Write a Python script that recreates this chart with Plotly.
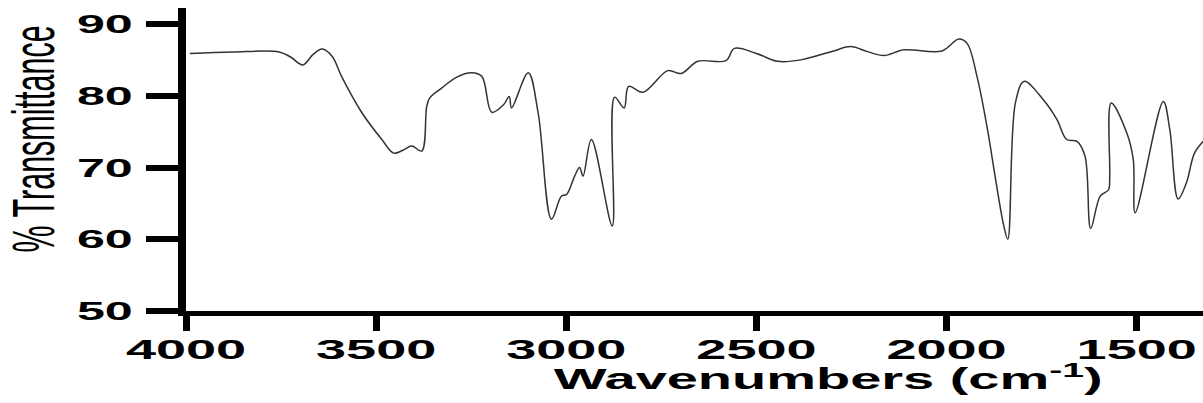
import plotly.graph_objects as go

# ---- data ----
wavenumber = [3990, 3878, 3755, 3725, 3693, 3665, 3642, 3616, 3590, 3537, 3485,
              3454, 3430, 3406, 3380, 3367, 3359, 3327, 3288, 3249, 3222, 3196,
              3165, 3150, 3144, 3100, 3074, 3039, 3013, 2999, 2978, 2965, 2956,
              2934, 2879, 2873, 2848, 2836, 2798, 2733, 2698, 2654, 2580, 2558,
              2500, 2444, 2383, 2297, 2252, 2208, 2165, 2112, 2012, 1968, 1946,
              1920, 1893, 1870, 1850, 1839, 1819, 1796, 1745, 1710, 1684, 1657,
              1636, 1621, 1596, 1574, 1571, 1567, 1526, 1509, 1504, 1430, 1413,
              1391, 1369, 1348, 1322]
transmittance = [85.9, 86.1, 86.1, 85.4, 84.3, 85.8, 86.5, 85.5, 82.6, 77.6, 73.9,
                 72.0, 72.4, 73.0, 72.3, 78.5, 79.7, 81.1, 82.6, 83.2, 82.7, 77.7,
                 78.75, 79.9, 78.3, 83.2, 77.6, 62.8, 66.0, 66.25, 68.8, 70.0, 68.8,
                 73.9, 61.85, 79.8, 78.3, 81.3, 80.5, 83.5, 83.1, 84.8, 84.9, 86.6,
                 85.9, 84.8, 85.0, 86.25, 86.85, 86.15, 85.6, 86.4, 86.25, 87.9, 87.3,
                 82.7, 75.5, 68.0, 62.0, 60.0, 79.0, 82.0, 79.4, 76.7, 73.9, 73.65,
                 71.6, 61.5, 66.0, 66.9, 68.5, 79.0, 74.8, 71.1, 63.7, 79.2, 75.3,
                 65.6, 67.9, 72.0, 73.8]
x_ticks = [4000, 3500, 3000, 2500, 2000, 1500]
y_ticks = [50, 60, 70, 80, 90]
x_title = "Wavenumbers (cm<sup>-1</sup>)"
y_title = "% Transmittance"

# ---- layout geometry (pixels) ----
W, H = 1203, 403
L, T, B = 186, 8, 311
X1500_PX = 1136.7
Y90_PX = 24
x_right = 4000 - (W - L) * 2500 / (X1500_PX - L)
y_top = 90 + (Y90_PX - T) * 40 / (B - Y90_PX)

fig = go.Figure(go.Scatter(
    x=wavenumber, y=transmittance, mode="lines",
    line=dict(color="#333333", width=1.5, shape="spline", smoothing=1.0),
    hoverinfo="skip"))

FONT = "Liberation Sans, Arial, sans-serif"
tick_font_x = dict(family=FONT, size=28, color="black", weight="bold")
tick_font_y = dict(family=FONT, size=26, color="black", weight="bold")

fig.update_layout(
    width=W, height=H, margin=dict(l=L, r=0, t=T, b=H - B, pad=0),
    paper_bgcolor="white", plot_bgcolor="white", showlegend=False,
    xaxis=dict(range=[4000, x_right], tickmode="array", tickvals=x_ticks,
               ticks="outside", ticklen=15, tickwidth=7, tickcolor="black",
               showline=True, linewidth=5, linecolor="black",
               showgrid=False, zeroline=False, tickfont=tick_font_x,
               ticklabelstandoff=0),
    yaxis=dict(range=[50, y_top], tickmode="array", tickvals=y_ticks,
               ticks="outside", ticklen=32, tickwidth=6, tickcolor="black",
               showline=True, linewidth=8, linecolor="black",
               showgrid=False, zeroline=False, tickfont=tick_font_y,
               ticklabelstandoff=8),
)

def px_to_paper_x(px):
    return (px - L) / (W - L)

def px_to_paper_y(py):
    return (B - py) / (B - T)

fig.add_annotation(text=x_title, xref="paper", yref="paper",
                   x=px_to_paper_x(828), y=px_to_paper_y(377),
                   xanchor="center", yanchor="middle", showarrow=False,
                   font=dict(family=FONT, size=29, color="black", weight="bold"))
fig.add_annotation(text=y_title, xref="paper", yref="paper",
                   x=px_to_paper_x(32.5), y=px_to_paper_y(139),
                   xanchor="center", yanchor="middle", showarrow=False,
                   textangle=-90,
                   font=dict(family=FONT, size=30.5, color="black"))

# The reference image is stretched horizontally; widen all text the same way,
# and pull the x tick labels slightly closer to their ticks.
post_js = r"""
var gd = document.getElementById('{plot_id}');
var S = 1.93;
var XTICK_SHIFT = -6;
function isRot(el){
  while(el && el.getAttribute){
    var t = el.getAttribute('transform');
    if(t){
      var m = t.match(/rotate\(\s*(-?[\d.eE+-]+)/);
      if(m && Math.abs(parseFloat(m[1])) > 45) return true;
    }
    el = el.parentNode;
  }
  return false;
}
function stretch(){
  var texts = gd.querySelectorAll('text');
  texts.forEach(function(t){
    var cur = t.getAttribute('transform') || '';
    if (cur !== '' && t.getAttribute('data-st') === cur) return;
    var bb = t.getBBox();
    if (!bb.width) return;
    var add;
    if (isRot(t)) {
      var cy = bb.y + bb.height / 2;
      add = ' translate(0,' + cy + ') scale(1,' + S + ') translate(0,' + (-cy) + ')';
    } else {
      var a = t.getAttribute('text-anchor') || 'start';
      var ax = a === 'middle' ? bb.x + bb.width / 2 : (a === 'end' ? bb.x + bb.width : bb.x);
      var dy = (t.closest && t.closest('.xtick')) ? XTICK_SHIFT : 0;
      add = ' translate(' + ax + ',' + dy + ') scale(' + S + ',1) translate(' + (-ax) + ',0)';
    }
    var nt = cur + add;
    t.setAttribute('transform', nt);
    t.setAttribute('data-st', nt);
  });
}
stretch();
gd.on('plotly_afterplot', stretch);
"""

fig.write_html("out.html", post_script=post_js,
               config={"displayModeBar": False, "responsive": False, "staticPlot": True})
